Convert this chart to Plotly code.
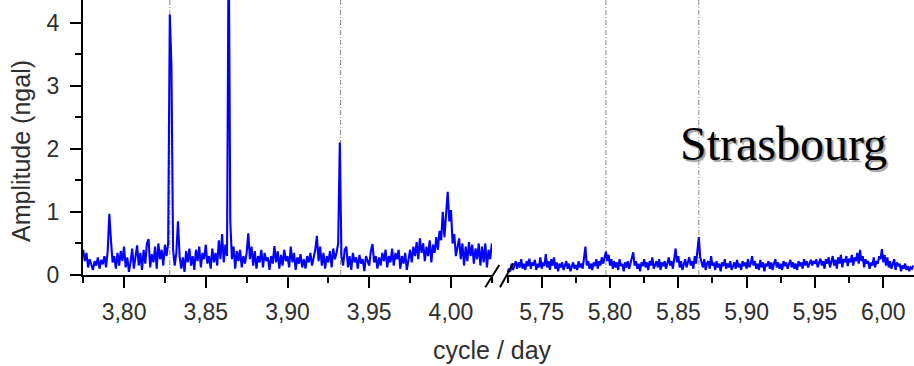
import numpy as np
import plotly.graph_objects as go

# ---------------- data ----------------
left_start, left_step = 3.775, 0.001
left_amp = [
    0.40, 0.22, 0.35, 0.12, 0.25, 0.18, 0.08, 0.22, 0.15, 0.28,
    0.10, 0.24, 0.17, 0.30, 0.12, 0.38, 0.97, 0.55, 0.20, 0.30,
    0.10, 0.35, 0.15, 0.38, 0.22, 0.45, 0.12, 0.28, 0.05, 0.20,
    0.42, 0.10, 0.30, 0.47, 0.15, 0.35, 0.08, 0.40, 0.18, 0.50,
    0.57, 0.12, 0.33, 0.20, 0.45, 0.10, 0.50, 0.25, 0.40, 0.15,
    0.48, 0.30, 0.50, 4.13, 3.30, 0.40, 0.15, 0.35, 0.85, 0.30,
    0.10, 0.28, 0.05, 0.38, 0.20, 0.42, 0.15, 0.30, 0.08, 0.40,
    0.22, 0.45, 0.12, 0.35, 0.25, 0.48, 0.18, 0.30, 0.10, 0.42,
    0.20, 0.35, 0.15, 0.55, 0.25, 0.65, 0.20, 0.48, 0.30, 5.50,
    0.85, 0.25, 0.45, 0.10, 0.38, 0.22, 0.40, 0.12, 0.30, 0.18,
    0.35, 0.66, 0.25, 0.45, 0.15, 0.38, 0.10, 0.30, 0.20, 0.40,
    0.12, 0.35, 0.22, 0.28, 0.08, 0.30, 0.18, 0.46, 0.20, 0.38,
    0.10, 0.32, 0.15, 0.40, 0.22, 0.30, 0.12, 0.45, 0.20, 0.35,
    0.08, 0.28, 0.18, 0.33, 0.12, 0.25, 0.10, 0.30, 0.20, 0.35,
    0.15, 0.28, 0.40, 0.62, 0.22, 0.45, 0.15, 0.35, 0.10, 0.30,
    0.20, 0.38, 0.12, 0.42, 0.25, 0.35, 0.50, 2.10, 0.30, 0.15,
    0.40, 0.45, 0.12, 0.30, 0.08, 0.35, 0.20, 0.28, 0.10, 0.32,
    0.18, 0.25, 0.06, 0.30, 0.22, 0.15, 0.38, 0.49, 0.20, 0.30,
    0.10, 0.28, 0.15, 0.35, 0.22, 0.40, 0.12, 0.30, 0.20, 0.42,
    0.15, 0.35, 0.25, 0.40, 0.10, 0.30, 0.18, 0.35, 0.08, 0.25,
    0.40, 0.20, 0.45, 0.30, 0.52, 0.25, 0.58, 0.35, 0.50, 0.22,
    0.45, 0.30, 0.55, 0.20, 0.48, 0.35, 0.60, 0.40, 0.70, 0.55,
    1.00, 0.60, 0.95, 1.32, 0.85, 1.03, 0.50, 0.65, 0.30, 0.45,
    0.58, 0.25, 0.50, 0.15, 0.45, 0.22, 0.52, 0.30, 0.48, 0.18,
    0.42, 0.25, 0.50, 0.15, 0.45, 0.20, 0.50, 0.12, 0.40, 0.25,
    0.50,
]

right_start, right_step = 5.725, 0.001
right_amp = [
    0.04, 0.10, 0.06, 0.18, 0.08, 0.15, 0.22, 0.10, 0.20, 0.12,
    0.25, 0.10, 0.18, 0.08, 0.22, 0.14, 0.26, 0.10, 0.20, 0.15,
    0.24, 0.08, 0.18, 0.12, 0.28, 0.10, 0.20, 0.14, 0.33, 0.12,
    0.22, 0.08, 0.25, 0.15, 0.28, 0.10, 0.20, 0.06, 0.18, 0.12,
    0.20, 0.08, 0.15, 0.22, 0.10, 0.18, 0.06, 0.14, 0.20, 0.10,
    0.16, 0.08, 0.22, 0.12, 0.18, 0.10, 0.25, 0.45, 0.15, 0.22,
    0.10, 0.18, 0.08, 0.20, 0.14, 0.25, 0.10, 0.22, 0.15, 0.28,
    0.18, 0.30, 0.37, 0.22, 0.32, 0.15, 0.25, 0.10, 0.22, 0.12,
    0.20, 0.08, 0.25, 0.14, 0.18, 0.06, 0.20, 0.12, 0.22, 0.10,
    0.18, 0.25, 0.36, 0.15, 0.22, 0.10, 0.18, 0.06, 0.20, 0.14,
    0.25, 0.12, 0.20, 0.08, 0.22, 0.15, 0.28, 0.10, 0.18, 0.22,
    0.12, 0.25, 0.08, 0.20, 0.14, 0.22, 0.10, 0.18, 0.28, 0.15,
    0.22, 0.10, 0.25, 0.42, 0.20, 0.30, 0.12, 0.22, 0.08, 0.18,
    0.25, 0.12, 0.20, 0.28, 0.15, 0.22, 0.10, 0.30, 0.18, 0.35,
    0.60, 0.28, 0.20, 0.12, 0.25, 0.08, 0.18, 0.22, 0.10, 0.30,
    0.15, 0.20, 0.08, 0.22, 0.12, 0.18, 0.06, 0.20, 0.14, 0.25,
    0.10, 0.18, 0.12, 0.22, 0.08, 0.16, 0.20, 0.10, 0.24, 0.12,
    0.18, 0.08, 0.22, 0.14, 0.20, 0.10, 0.25, 0.12, 0.18, 0.30,
    0.15, 0.22, 0.10, 0.18, 0.08, 0.24, 0.12, 0.20, 0.06, 0.18,
    0.14, 0.22, 0.10, 0.20, 0.08, 0.18, 0.25, 0.12, 0.20, 0.10,
    0.18, 0.08, 0.22, 0.14, 0.20, 0.10, 0.16, 0.24, 0.12, 0.20,
    0.10, 0.18, 0.08, 0.22, 0.14, 0.20, 0.10, 0.25, 0.15, 0.22,
    0.12, 0.20, 0.24, 0.15, 0.22, 0.18, 0.25, 0.12, 0.20, 0.26,
    0.15, 0.22, 0.10, 0.25, 0.18, 0.28, 0.12, 0.20, 0.30, 0.15,
    0.24, 0.10, 0.28, 0.18, 0.32, 0.12, 0.25, 0.20, 0.30, 0.14,
    0.26, 0.20, 0.32, 0.15, 0.28, 0.22, 0.35, 0.18, 0.40, 0.22,
    0.30, 0.12, 0.25, 0.18, 0.22, 0.10, 0.20, 0.15, 0.28, 0.12,
    0.22, 0.18, 0.30, 0.25, 0.41, 0.20, 0.32, 0.15, 0.28, 0.12,
    0.22, 0.10, 0.18, 0.25, 0.08, 0.20, 0.14, 0.18, 0.06, 0.15,
    0.10, 0.18, 0.08, 0.14, 0.06, 0.12, 0.10, 0.15,
]

left_tickvals = [3.80, 3.85, 3.90, 3.95, 4.00]
left_ticktext = ["3,80", "3,85", "3,90", "3,95", "4,00"]
right_tickvals = [5.75, 5.80, 5.85, 5.90, 5.95, 6.00]
right_ticktext = ["5,75", "5,80", "5,85", "5,90", "5,95", "6,00"]
y_tickvals = [0, 1, 2, 3, 4]
y_ticktext = ["0", "1", "2", "3", "4"]

left_marker_lines = [3.828, 3.9325]
right_marker_lines = [5.797, 5.865]

x_title = "cycle / day"
y_title = "Amplitude (ngal)"
station = "Strasbourg"

# ---------------- figure ----------------
left_x = left_start + left_step * np.arange(len(left_amp))
right_x = right_start + right_step * np.arange(len(right_amp))

W, H = 914, 366
ML, MB = 83, 91
PW, PH = W - ML, H - MB


def px_x(p):
    return (p - ML) / PW


def px_y(p):
    return (PH - p) / PH


fig = go.Figure()
blue = "#0000ff"
fig.add_trace(go.Scatter(x=left_x, y=left_amp, mode="lines", xaxis="x", yaxis="y",
                         line=dict(color=blue, width=2.1), showlegend=False))
fig.add_trace(go.Scatter(x=right_x, y=right_amp, mode="lines", xaxis="x2", yaxis="y",
                         line=dict(color=blue, width=2.1), showlegend=False))

tickfont = dict(family="Liberation Sans, Arial", size=23, color="#2e2e2e")
axis_common = dict(showline=True, linecolor="black", linewidth=2, ticks="outside",
                   ticklen=11, tickwidth=2, tickcolor="black", showgrid=False,
                   zeroline=False, tickfont=tickfont)

fig.update_layout(
    width=W, height=H,
    margin=dict(l=ML, r=0, t=0, b=MB, pad=0),
    paper_bgcolor="white", plot_bgcolor="white",
    xaxis=dict(domain=[0, px_x(492)], range=[3.7749, 4.0251], anchor="y",
               tickmode="array", tickvals=left_tickvals, ticktext=left_ticktext,
               minor=dict(tick0=3.775, dtick=0.025, ticklen=6, tickwidth=2,
                          tickcolor="black", ticks="outside"),
               ticklabelstandoff=4, **axis_common),
    xaxis2=dict(domain=[px_x(507), 1], range=[5.7246, 6.0225], anchor="y",
                tickmode="array", tickvals=right_tickvals, ticktext=right_ticktext,
                minor=dict(tick0=5.725, dtick=0.025, ticklen=6, tickwidth=2,
                           tickcolor="black", ticks="outside"),
                ticklabelstandoff=4, **axis_common),
    yaxis=dict(range=[0, 4.36], anchor="x",
               tickmode="array", tickvals=y_tickvals, ticktext=y_ticktext,
               minor=dict(tick0=0, dtick=0.5, ticklen=6, tickwidth=2,
                          tickcolor="black", ticks="outside"),
               ticklabelstandoff=6, **axis_common),
)

shapes = []
for xv in left_marker_lines:
    shapes.append(dict(type="line", xref="x", yref="paper", x0=xv, x1=xv, y0=0, y1=1,
                       line=dict(color="#8a8a8a", width=1, dash="5px,2px,1px,2px"),
                       layer="below"))
for xv in right_marker_lines:
    shapes.append(dict(type="line", xref="x2", yref="paper", x0=xv, x1=xv, y0=0, y1=1,
                       line=dict(color="#8a8a8a", width=1, dash="5px,2px,1px,2px"),
                       layer="below"))
# axis-break slashes
shapes.append(dict(type="line", xref="paper", yref="paper",
                   x0=px_x(485.3), y0=px_y(287.3), x1=px_x(499.3), y1=px_y(265),
                   line=dict(color="black", width=2)))
shapes.append(dict(type="line", xref="paper", yref="paper",
                   x0=px_x(500), y0=px_y(287.3), x1=px_x(513.3), y1=px_y(263.3),
                   line=dict(color="black", width=2)))
fig.update_layout(shapes=shapes)

titlefont = dict(family="Liberation Sans, Arial", size=25, color="#2e2e2e")
annotations = [
    dict(text=x_title, xref="paper", yref="paper", x=px_x(492.5), y=px_y(350),
         xanchor="center", yanchor="middle", showarrow=False, font=titlefont),
    dict(text=y_title, xref="paper", yref="paper", x=px_x(21), y=px_y(151),
         xanchor="center", yanchor="middle", showarrow=False, textangle=-90,
         font=titlefont),
    dict(text=station, xref="paper", yref="paper", x=px_x(783), y=px_y(143.8),
         xanchor="center", yanchor="middle", showarrow=False,
         font=dict(family="Liberation Serif, Times New Roman", size=48, color="black",
                   shadow="2px 2px 1px #a0a0a0")),
]
fig.update_layout(annotations=annotations)

fig.write_html("out.html")
